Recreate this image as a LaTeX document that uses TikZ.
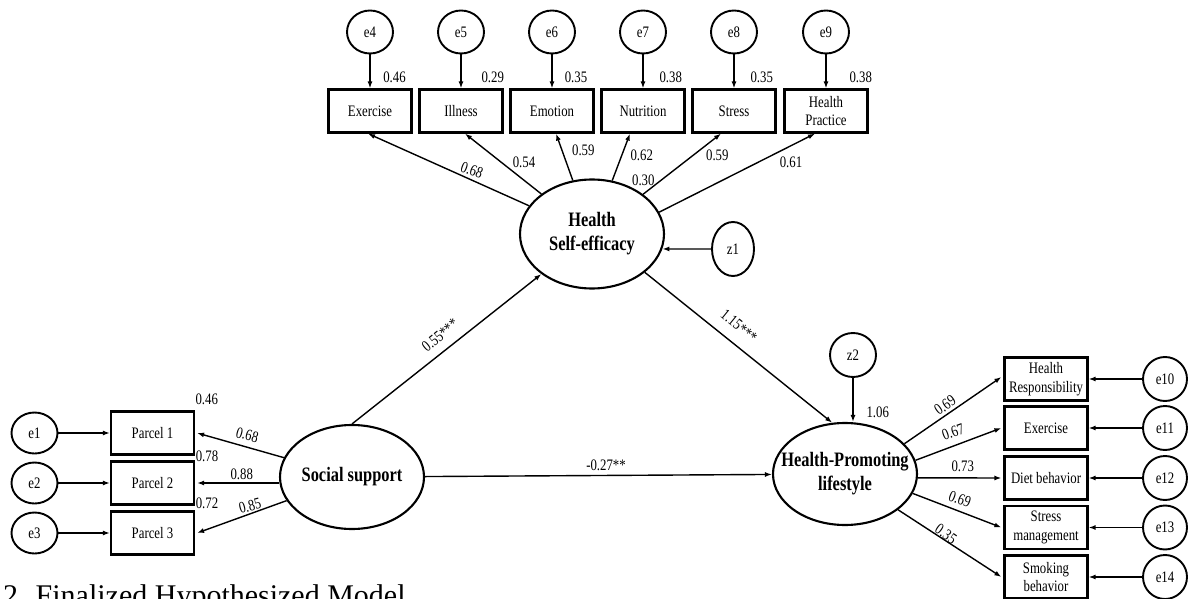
\documentclass[tikz,border=0pt]{standalone}
\usepackage{fontspec}
\setmainfont{Liberation Serif}
\newfontfamily\lbl[FakeStretch=0.8]{Liberation Serif}
\usetikzlibrary{shapes.geometric,arrows.meta,calc}
\begin{document}
\begin{tikzpicture}[x=1pt,y=-1pt,
 every node/.style={font=\lbl\fontsize{16}{18.5}\selectfont},
 obs/.style={draw, line width=2.2pt, minimum width=83pt, minimum height=43pt, inner sep=0pt, align=center},
 err/.style={draw, ellipse, line width=1.9pt, minimum width=46pt, minimum height=43pt, inner sep=0pt},
 lat/.style={draw, ellipse, line width=2.1pt, minimum width=144pt, minimum height=106pt, inner sep=0pt},
 lattext/.style={font=\lbl\bfseries\fontsize{20.5}{24}\selectfont, align=center, inner sep=0pt},
 arr/.style={line width=1.4pt, -{Latex[length=7pt,width=5pt]}},
 lab/.style={inner sep=0pt}
]
\useasboundingbox (0,0) rectangle (1192,599);

% top indicators
\node[obs] (b1) at (370,111) {Exercise};
\node[obs] (b2) at (461,111) {Illness};
\node[obs] (b3) at (552,111) {Emotion};
\node[obs] (b4) at (643,111) {Nutrition};
\node[obs] (b5) at (734,111) {Stress};
\node[obs] (b6) at (826,111) {Health\\Practice};
\node[err] (e4) at (370,32) {e4};
\node[err] (e5) at (461,32) {e5};
\node[err] (e6) at (552,32) {e6};
\node[err] (e7) at (643,32) {e7};
\node[err] (e8) at (734,32) {e8};
\node[err] (e9) at (826,32) {e9};
\draw[arr] (e4) -- (b1);
\draw[arr] (e5) -- (b2);
\draw[arr] (e6) -- (b3);
\draw[arr] (e7) -- (b4);
\draw[arr] (e8) -- (b5);
\draw[arr] (e9) -- (b6);
\node[lab] (v4) at (394.5,77) {0.46};
\node[lab] (v5) at (492.7,77) {0.29};
\node[lab] (v6) at (576,77) {0.35};
\node[lab] (v7) at (670.7,77) {0.38};
\node[lab] (v8) at (761.7,77) {0.35};
\node[lab] (v9) at (860.7,77) {0.38};

% Health self-efficacy
\node[lat, minimum height=109pt] (hse) at (592,234) {};
\node[lattext] (hset) at (hse.center) {Health\\Self-efficacy};
\node[draw, ellipse, line width=1.9pt, minimum width=42pt, minimum height=54pt, inner sep=0pt] (z1) at (733,249) {z1};
\draw[arr] (z1) -- (hse.-12);

\draw[arr] (hse) -- ([xshift=-2pt]b1.south);
\draw[arr] (hse) -- ([xshift=4pt]b2.south);
\draw[arr] (hse) -- ([xshift=4pt]b3.south);
\draw[arr] (hse) -- ([xshift=-13pt]b4.south);
\draw[arr] (hse) -- ([xshift=-13pt]b5.south);
\draw[arr] (hse.18) -- ([xshift=-11pt]b6.south);
\node[lab, rotate=-20] (l1) at (472,170) {0.68};
\node[lab] (l2) at (524,162) {0.54};
\node[lab] (l3) at (583.3,150.7) {0.59};
\node[lab] (l4) at (641.7,155) {0.62};
\node[lab] (l5) at (717.3,155) {0.59};
\node[lab] (l5b) at (643.3,180) {0.30};
\node[lab] (l6) at (791,162.7) {0.61};

% Social support
\node[lat, minimum height=104pt] (ss) at (352,477) {};
\node[lattext] (sst) at (ss.center) {Social support};
\node[obs] (p1) at (152.5,433) {Parcel 1};
\node[obs] (p2) at (152.5,483) {Parcel 2};
\node[obs] (p3) at (152.5,533) {Parcel 3};
\node[err, minimum height=41pt] (e1) at (34.5,433) {e1};
\node[err, minimum height=41pt] (e2) at (34.5,483) {e2};
\node[err, minimum height=41pt] (e3) at (34.5,533) {e3};
\draw[arr] (e1) -- (p1);
\draw[arr] (e2) -- (p2);
\draw[arr] (e3) -- (p3);
\draw[arr] (ss) -- ([xshift=2pt]p1.east);
\draw[arr] (ss.west |- p2.east) -- ([xshift=2pt]p2.east);
\draw[arr] (ss) -- ([xshift=2pt]p3.east);
\node[lab] (q1) at (206.7,399.3) {0.46};
\node[lab] (q2) at (207,456) {0.78};
\node[lab] (q3) at (207,503.3) {0.72};
\node[lab, rotate=-15] (r1) at (247.3,435) {0.68};
\node[lab] (r2) at (241.7,474) {0.88};
\node[lab, rotate=15] (r3) at (250,506) {0.85};

% Health-promoting lifestyle
\node[lat, minimum height=102pt] (hpl) at (845,474) {};
\node[lattext] (hplt) at (hpl.center) {Health-Promoting\\lifestyle};
\node[err, minimum height=44pt] (z2) at (853,355) {z2};
\draw[arr] (z2) -- (z2.south |- hpl.north);
\node[lab] (v10) at (877.7,412.7) {1.06};

\node[obs] (c1) at (1046,379) {Health\\Responsibility};
\node[obs] (c2) at (1046,428) {Exercise};
\node[obs] (c3) at (1046,478) {Diet behavior};
\node[obs] (c4) at (1046,527.5) {Stress\\management};
\node[obs] (c5) at (1046,577) {Smoking\\behavior};
\node[err, minimum width=44pt, minimum height=44pt] (e10) at (1165,379) {e10};
\node[err, minimum width=44pt, minimum height=44pt] (e11) at (1165,428) {e11};
\node[err, minimum width=44pt, minimum height=44pt] (e12) at (1165,478) {e12};
\node[err, minimum width=44pt, minimum height=44pt] (e13) at (1165,527.5) {e13};
\node[err, minimum width=44pt, minimum height=44pt] (e14) at (1165,577) {e14};
\draw[arr] (e10) -- (c1);
\draw[arr] (e11) -- (c2);
\draw[arr] (e12) -- (c3);
\draw[arr] (e13) -- (c4);
\draw[arr] (e14) -- (c5);
\draw[arr] (hpl.27) -- ([yshift=2pt,xshift=-2pt]c1.west);
\draw[arr] (hpl.11) -- ([xshift=-2pt]c2.west);
\draw[arr] (hpl.-3) -- ([xshift=-2pt]c3.west);
\draw[arr] (hpl.-16) -- ([xshift=-2pt]c4.west);
\draw[arr] (hpl.-34) -- ([xshift=-2pt]c5.west);
\node[lab, rotate=35] (s1) at (945,405) {0.69};
\node[lab, rotate=20] (s2) at (953,432) {0.67};
\node[lab] (s3) at (962.7,466.7) {0.73};
\node[lab, rotate=-20] (s4) at (960,499) {0.69};
\node[lab, rotate=-35] (s5) at (946,534) {0.35};

% structural paths
\draw[arr] (ss.north) -- (hse);
\draw[arr] (hse.-36) -- (hpl.104);
\draw[arr] (ss) -- (hpl);
\node[lab, rotate=39] (k1) at (440,335) {0.55***};
\node[lab, rotate=-39] (k2) at (739,326) {1.15***};
\node[lab] (k3) at (606,465) {-0.27**};

% caption (cut at the bottom edge)
\node[anchor=base west, inner sep=0pt, font=\fontsize{30}{34}\selectfont] (cap) at (3,605.5) {2. Finalized Hypothesized Model};
\end{tikzpicture}
\end{document}
